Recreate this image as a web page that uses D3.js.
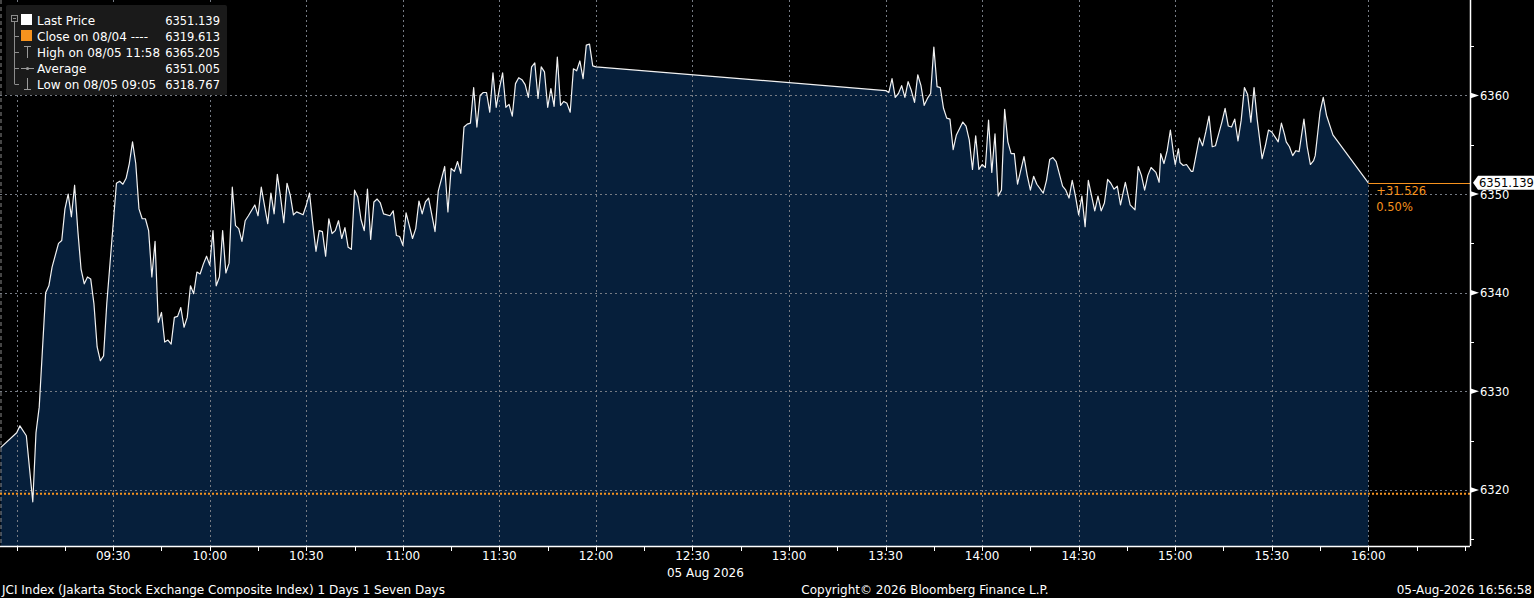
<!DOCTYPE html>
<html>
<head>
<meta charset="utf-8">
<script src="https://cdn.jsdelivr.net/npm/d3@7"></script>
<style>
html, body { margin: 0; padding: 0; background: #000; overflow: hidden; }
svg { display: block; font-family: "DejaVu Sans", sans-serif; }
</style>
</head>
<body>
<div id="chart"></div>
<script>
/**
* JCI intraday chart, Bloomberg style.
*/

// global parameters : chart dimensions
const width = 1534, height = 598;
const plot = {left: 0, top: 0, right: 1470, bottom: 546};

// morning session (last price per minute)
const morningTimes = [
    "08:55","09:00","09:01","09:03","09:05","09:06","09:07","09:09","09:10","09:11",
    "09:13","09:14","09:15","09:16","09:17","09:18","09:19","09:20","09:21","09:22",
    "09:23","09:24","09:25","09:26","09:27","09:28","09:31","09:32","09:33","09:34",
    "09:35","09:36","09:37","09:38","09:39","09:40","09:41","09:42","09:43","09:44",
    "09:45","09:46","09:47","09:48","09:49","09:50","09:51","09:52","09:53","09:54",
    "09:55","09:56","09:57","09:58","09:59","10:00","10:01","10:02","10:03","10:04",
    "10:05","10:06","10:07","10:08","10:09","10:10","10:11","10:12","10:14","10:15",
    "10:16","10:18","10:19","10:20","10:21","10:22","10:23","10:24","10:25","10:26",
    "10:27","10:29","10:30","10:31","10:32","10:33","10:34","10:35","10:36","10:37",
    "10:38","10:39","10:40","10:41","10:42","10:43","10:44","10:45","10:46","10:47",
    "10:48","10:49","10:50","10:51","10:52","10:53","10:54","10:56","10:57","10:58",
    "10:59","11:00","11:01","11:02","11:03","11:04","11:05","11:06","11:07","11:08",
    "11:10","11:11","11:13","11:14","11:15","11:16","11:17","11:18","11:19","11:20",
    "11:21","11:22","11:23","11:24","11:25","11:26","11:27","11:28","11:29","11:30",
    "11:31","11:32","11:33","11:34","11:35","11:36","11:37","11:38","11:39","11:40",
    "11:41","11:42","11:43","11:44","11:45","11:46","11:47","11:48","11:49","11:50",
    "11:51","11:52","11:53","11:54","11:55","11:56","11:57","11:58","11:59","12:00"
];
const morningPrices = [
    6324.3,6325.8,6326.5,6325.5,6318.8,6325.8,6328.4,6340.0,6340.7,6342.6,
    6345.0,6345.3,6348.5,6350.0,6347.7,6350.9,6346.3,6342.4,6340.9,6341.6,
    6341.4,6338.9,6334.5,6333.1,6333.6,6338.9,6351.1,6351.3,6351.0,6351.6,
    6353.1,6355.3,6353.1,6348.5,6347.5,6347.5,6346.3,6341.6,6345.2,6337.0,
    6338.0,6335.0,6335.2,6334.8,6337.5,6337.6,6338.5,6336.5,6337.5,6340.7,
    6339.9,6342.1,6341.9,6342.9,6343.7,6342.8,6346.3,6340.7,6341.6,6346.3,
    6342.0,6343.0,6350.7,6346.8,6346.5,6345.2,6347.3,6347.8,6348.9,6347.8,
    6350.7,6347.0,6350.1,6348.0,6352.0,6349.7,6347.1,6351.1,6349.9,6347.9,
    6348.2,6347.9,6348.9,6350.1,6347.0,6344.2,6346.3,6346.2,6343.7,6347.5,
    6346.0,6346.3,6347.3,6345.5,6346.6,6344.6,6344.4,6350.4,6349.7,6347.4,
    6346.3,6350.5,6345.4,6349.2,6349.5,6349.1,6348.0,6347.8,6348.3,6345.8,
    6345.7,6344.8,6348.1,6346.8,6345.5,6346.5,6349.3,6348.0,6349.2,6349.6,
    6346.2,6350.3,6352.8,6348.2,6352.6,6352.3,6353.3,6352.1,6356.8,6357.1,
    6357.2,6360.8,6356.8,6360.0,6360.3,6360.3,6358.3,6362.3,6358.8,6360.7,
    6362.3,6358.8,6359.1,6357.9,6361.2,6361.8,6361.6,6361.1,6359.8,6362.9,
    6363.3,6359.7,6362.9,6362.4,6358.8,6360.7,6358.9,6363.9,6359.0,6359.4,
    6359.2,6358.3,6362.7,6362.5,6363.5,6361.7,6365.1,6365.2,6363.0,6362.9
];

// afternoon session
const afternoonTimes = [
    "13:30","13:31","13:32","13:33","13:34","13:35","13:36","13:37","13:38","13:39",
    "13:40","13:41","13:42","13:43","13:44","13:45","13:46","13:47","13:48","13:49",
    "13:50","13:51","13:52","13:54","13:55","13:56","13:57","13:58","13:59","14:00",
    "14:01","14:02","14:03","14:04","14:05","14:06","14:07","14:08","14:09","14:10",
    "14:11","14:13","14:14","14:15","14:16","14:17","14:19","14:20","14:21","14:22",
    "14:23","14:25","14:26","14:27","14:28","14:29","14:30","14:31","14:32","14:33",
    "14:35","14:36","14:37","14:38","14:39","14:40","14:41","14:42","14:43","14:44:30",
    "14:46","14:47:30","14:48:30","14:49:30","14:50:30","14:51:30","14:52:30","14:54","14:55","14:55:30",
    "14:56:30","14:57:30","14:58:30","14:59:30","15:00","15:01","15:01:30","15:02:30","15:03:30","15:05",
    "15:05:30","15:06:30","15:07:30","15:08:30","15:09:30","15:10:30","15:11:30","15:12:30","15:13:30","15:14:30",
    "15:15:30","15:16:30","15:17:30","15:18:30","15:19:30","15:20:30","15:21:30","15:22:30","15:23:30","15:24:30",
    "15:25:30","15:27","15:28","15:29","15:30","15:31","15:32","15:33","15:34","15:34:30",
    "15:35:30","15:36:30","15:37:30","15:38:30","15:40","15:41","15:42","15:43","15:43:30","15:45",
    "15:46","15:47","15:49","16:00"
];
const afternoonPrices = [
    6360.5,6360.3,6361.7,6359.8,6360.2,6361.0,6359.8,6361.4,6360.5,6359.3,
    6362.1,6361.0,6359.0,6359.7,6360.2,6364.9,6360.9,6360.8,6358.7,6357.7,
    6357.6,6354.5,6356.0,6357.3,6356.9,6355.5,6352.5,6355.9,6352.5,6353.0,
    6352.7,6357.5,6352.2,6356.1,6349.8,6350.4,6358.6,6355.3,6354.1,6354.1,
    6351.0,6353.8,6351.9,6350.4,6351.8,6351.0,6350.1,6351.4,6353.5,6353.7,
    6353.3,6350.8,6350.4,6349.6,6351.4,6349.8,6347.9,6349.8,6346.7,6351.4,
    6348.3,6349.8,6348.3,6349.1,6351.5,6351.1,6350.5,6350.8,6348.9,6351.2,
    6348.9,6348.4,6352.8,6351.9,6350.4,6351.9,6352.7,6352.2,6351.2,6354.1,
    6353.1,6354.4,6356.5,6354.0,6353.0,6354.6,6353.2,6352.9,6353.0,6352.3,
    6352.3,6354.0,6355.7,6354.9,6356.3,6357.9,6354.8,6354.9,6356.1,6357.3,
    6358.7,6356.9,6356.8,6357.6,6355.4,6357.5,6360.8,6360.1,6357.3,6360.8,
    6357.5,6353.6,6354.9,6356.5,6356.3,6355.8,6355.3,6357.2,6356.0,6355.3,
    6354.8,6353.9,6354.4,6354.3,6357.6,6354.8,6353.0,6353.4,6353.9,6358.3,
    6359.8,6358.0,6356.0,6351.139
];

// reference values
const lastPrice = 6351.139;
const prevClose = 6319.613;
const netChange = "+31.526";
const pctChange = "0.50%";

// legend rows
const legendLabels = ["Last Price", "Close on 08/04 ----", "High on 08/05 11:58", "Average", "Low on 08/05 09:05"];
const legendValues = ["6351.139", "6319.613", "6365.205", "6351.005", "6318.767"];

// axis ticks
const yTicks = [6320, 6330, 6340, 6350, 6360];
const yMinorTicks = [6315, 6325, 6335, 6345, 6355, 6365];
const xTickLabels = ["09:30","10:00","10:30","11:00","11:30","12:00","12:30","13:00","13:30","14:00","14:30","15:00","15:30","16:00"];
const xGridTimes = ["09:00","09:30","10:00","10:30","11:00","11:30","12:00","12:30","13:00","13:30","14:00","14:30","15:00","15:30","16:00"];

const dayLabel = "05 Aug 2026";
const footerLeft = "JCI Index (Jakarta Stock Exchange Composite Index) 1 Days 1 Seven Days";
const footerMid = "Copyright\u00a9 2026 Bloomberg Finance L.P.";
const footerRight = "05-Aug-2026 16:56:58";

const orange = "#f7931e";
const gridColor = "#767b84";


function toDate(t) {
    const p = t.split(":").map(Number);
    return new Date(2026, 7, 5, p[0], p[1], p[2] || 0);
}

const x = d3.scaleTime()
    .domain([toDate("08:54:49"), toDate("16:31:36")])
    .range([plot.left, plot.right]);

const y = d3.scaleLinear()
    .domain([6314.32, 6369.68])
    .range([plot.bottom, plot.top]);

const data = morningTimes.map((t, i) => ({t: toDate(t), v: morningPrices[i]}))
    .concat(afternoonTimes.map((t, i) => ({t: toDate(t), v: afternoonPrices[i]})));


const svg = d3.select("#chart").append("svg")
    .attr("width", width)
    .attr("height", height);

svg.append("rect").attr("width", width).attr("height", height).attr("fill", "#000");


/**
* Area under the price line.
*/
function drawArea() {
    const area = d3.area()
        .x(d => x(d.t))
        .y0(plot.bottom)
        .y1(d => y(d.v));

    svg.append("path")
        .datum(data)
        .attr("d", area)
        .attr("fill", "#061f3b");
}


/**
* Dotted grid lines.
*/
function drawGrid() {
    const g = svg.append("g")
        .attr("stroke", gridColor)
        .attr("stroke-width", 1)
        .attr("stroke-dasharray", "2,3");

    g.selectAll("line.vgrid")
        .data(xGridTimes)
        .join("line")
        .attr("class", "vgrid")
        .attr("x1", d => Math.round(x(toDate(d))) + 0.5)
        .attr("x2", d => Math.round(x(toDate(d))) + 0.5)
        .attr("y1", plot.top)
        .attr("y2", plot.bottom);

    g.selectAll("line.hgrid")
        .data(yTicks)
        .join("line")
        .attr("class", "hgrid")
        .attr("x1", plot.left)
        .attr("x2", plot.right)
        .attr("y1", d => Math.round(y(d)) + 0.5)
        .attr("y2", d => Math.round(y(d)) + 0.5);

    // left border
    svg.append("line")
        .attr("x1", 1).attr("x2", 1)
        .attr("y1", plot.top).attr("y2", plot.bottom)
        .attr("stroke", "#8a8a8a")
        .attr("stroke-dasharray", "4,3");
}


/**
* Previous close, price line and last price marker.
*/
function drawLines() {
    svg.append("line")
        .attr("x1", plot.left)
        .attr("x2", plot.right)
        .attr("y1", y(prevClose))
        .attr("y2", y(prevClose))
        .attr("stroke", orange)
        .attr("stroke-width", 2)
        .attr("stroke-dasharray", "2,2");

    const line = d3.line()
        .x(d => x(d.t))
        .y(d => y(d.v));

    svg.append("path")
        .datum(data)
        .attr("d", line)
        .attr("fill", "none")
        .attr("stroke", "#f2f2f2")
        .attr("stroke-width", 1.2)
        .attr("stroke-linejoin", "round");

    const lastT = data[data.length - 1].t;
    svg.append("line")
        .attr("x1", x(lastT))
        .attr("x2", plot.right)
        .attr("y1", Math.round(y(lastPrice)) + 0.5)
        .attr("y2", Math.round(y(lastPrice)) + 0.5)
        .attr("stroke", orange)
        .attr("stroke-width", 1);

    svg.append("text")
        .attr("x", x(lastT) + 8)
        .attr("y", y(lastPrice) + 12)
        .attr("fill", orange)
        .style("font-size", "11.5px")
        .text(netChange);

    svg.append("text")
        .attr("x", x(lastT) + 8)
        .attr("y", y(lastPrice) + 28)
        .attr("fill", orange)
        .style("font-size", "11.5px")
        .text(pctChange);
}


/**
* Axes : time at the bottom, price on the right.
*/
function drawAxes() {
    const g = svg.append("g");

    // bottom axis
    g.append("line")
        .attr("x1", plot.left).attr("x2", plot.right)
        .attr("y1", plot.bottom + 0.5).attr("y2", plot.bottom + 0.5)
        .attr("stroke", "#fff").attr("stroke-width", 1.5);

    const ticks15 = x.ticks(d3.timeMinute.every(15)).filter(d => d.getHours() >= 9);
    g.selectAll("line.xtick")
        .data(ticks15)
        .join("line")
        .attr("class", "xtick")
        .attr("x1", d => Math.round(x(d)) + 0.5)
        .attr("x2", d => Math.round(x(d)) + 0.5)
        .attr("y1", plot.bottom)
        .attr("y2", plot.bottom + 5)
        .attr("stroke", "#fff");

    g.selectAll("text.xlabel")
        .data(xTickLabels)
        .join("text")
        .attr("class", "xlabel")
        .attr("x", d => x(toDate(d)))
        .attr("y", plot.bottom + 14)
        .attr("text-anchor", "middle")
        .attr("fill", "#fff")
        .style("font-size", "12px")
        .text(d => d);

    g.append("text")
        .attr("x", x(toDate("12:34")))
        .attr("y", plot.bottom + 31)
        .attr("text-anchor", "middle")
        .attr("fill", "#fff")
        .style("font-size", "12px")
        .text(dayLabel);

    // right axis
    g.append("line")
        .attr("x1", plot.right + 0.5).attr("x2", plot.right + 0.5)
        .attr("y1", plot.top).attr("y2", plot.bottom)
        .attr("stroke", "#fff").attr("stroke-width", 1.5);

    g.selectAll("line.yminor")
        .data(yMinorTicks)
        .join("line")
        .attr("class", "yminor")
        .attr("x1", plot.right)
        .attr("x2", plot.right + 4)
        .attr("y1", d => Math.round(y(d)) + 0.5)
        .attr("y2", d => Math.round(y(d)) + 0.5)
        .attr("stroke", "#fff");

    g.selectAll("path.ymajor")
        .data(yTicks)
        .join("path")
        .attr("class", "ymajor")
        .attr("d", d => {
            const yy = y(d);
            return "M" + plot.right + "," + (yy - 3) + "L" + (plot.right + 9) + "," + yy + "L" + plot.right + "," + (yy + 3) + "Z";
        })
        .attr("fill", "#fff");

    g.selectAll("text.ylabel")
        .data(yTicks)
        .join("text")
        .attr("class", "ylabel")
        .attr("x", plot.right + 10)
        .attr("y", d => y(d) + 4.5)
        .attr("fill", "#fff")
        .style("font-size", "11.5px")
        .text(d => d);

    // last price tag
    const ly = y(lastPrice);
    svg.append("path")
        .attr("d", "M" + (plot.right + 3) + "," + ly + "L" + (plot.right + 8) + "," + (ly - 7) +
            "L" + width + "," + (ly - 7) + "L" + width + "," + (ly + 7) + "L" + (plot.right + 8) + "," + (ly + 7) + "Z")
        .attr("fill", "#fff");

    svg.append("text")
        .attr("x", plot.right + 9)
        .attr("y", ly + 4.5)
        .attr("fill", "#000")
        .style("font-size", "11.5px")
        .text(lastPrice.toFixed(3));
}


/**
* Legend box in the top left corner.
*/
function drawLegend() {
    const g = svg.append("g");
    const rowY = i => 20 + 16 * i;

    g.append("rect")
        .attr("x", 6).attr("y", 5)
        .attr("width", 221).attr("height", 90)
        .attr("rx", 2)
        .attr("fill", "#1a1a1a");

    // tree lines
    const tree = g.append("g").attr("stroke", "#8c8c8c").attr("fill", "none");
    tree.append("rect").attr("x", 11.5).attr("y", 15.5).attr("width", 6).attr("height", 6);
    tree.append("line").attr("x1", 13).attr("x2", 16).attr("y1", 18.5).attr("y2", 18.5);
    tree.append("line").attr("x1", 14.5).attr("x2", 14.5).attr("y1", 22).attr("y2", rowY(4));
    [1, 2, 3, 4].forEach(i => {
        tree.append("line").attr("x1", 14.5).attr("x2", 19).attr("y1", rowY(i) + 0.5).attr("y2", rowY(i) + 0.5);
    });

    // series icons
    g.append("rect").attr("x", 21).attr("y", rowY(0) - 6).attr("width", 11).attr("height", 11).attr("fill", "#fff");
    g.append("rect").attr("x", 21).attr("y", rowY(1) - 6).attr("width", 11).attr("height", 11).attr("fill", orange);

    const icons = g.append("g").attr("stroke", "#9a9a9a").attr("fill", "#9a9a9a");
    icons.append("line").attr("x1", 27.5).attr("x2", 27.5).attr("y1", rowY(2) - 6).attr("y2", rowY(2) + 6);
    icons.append("line").attr("x1", 24).attr("x2", 31).attr("y1", rowY(2) - 5.5).attr("y2", rowY(2) - 5.5);
    icons.append("line").attr("x1", 21).attr("x2", 34).attr("y1", rowY(3) + 0.5).attr("y2", rowY(3) + 0.5);
    icons.append("circle").attr("cx", 27.5).attr("cy", rowY(3) + 0.5).attr("r", 1.6).attr("stroke", "none");
    icons.append("line").attr("x1", 27.5).attr("x2", 27.5).attr("y1", rowY(4) - 6).attr("y2", rowY(4) + 6);
    icons.append("line").attr("x1", 24).attr("x2", 31).attr("y1", rowY(4) + 5.5).attr("y2", rowY(4) + 5.5);

    g.selectAll("text.lname")
        .data(legendLabels)
        .join("text")
        .attr("class", "lname")
        .attr("x", 37)
        .attr("y", (d, i) => rowY(i) + 5)
        .attr("fill", "#fff")
        .style("font-size", "12px")
        .text(d => d);

    g.selectAll("text.lval")
        .data(legendValues)
        .join("text")
        .attr("class", "lval")
        .attr("x", 220)
        .attr("y", (d, i) => rowY(i) + 5)
        .attr("text-anchor", "end")
        .attr("fill", "#fff")
        .style("font-size", "11.5px")
        .text(d => d);
}


/**
* Footer line.
*/
function drawFooter() {
    const fy = 594;
    svg.append("text").attr("x", 2).attr("y", fy).attr("fill", "#fff")
        .style("font-size", "12px").text(footerLeft);
    svg.append("text").attr("x", 925).attr("y", fy).attr("fill", "#fff")
        .attr("text-anchor", "middle").style("font-size", "12px").text(footerMid);
    svg.append("text").attr("x", width - 2).attr("y", fy).attr("fill", "#fff")
        .attr("text-anchor", "end").style("font-size", "12px").text(footerRight);
}


drawArea();
drawGrid();
drawLines();
drawAxes();
drawLegend();
drawFooter();
</script>
</body>
</html>
